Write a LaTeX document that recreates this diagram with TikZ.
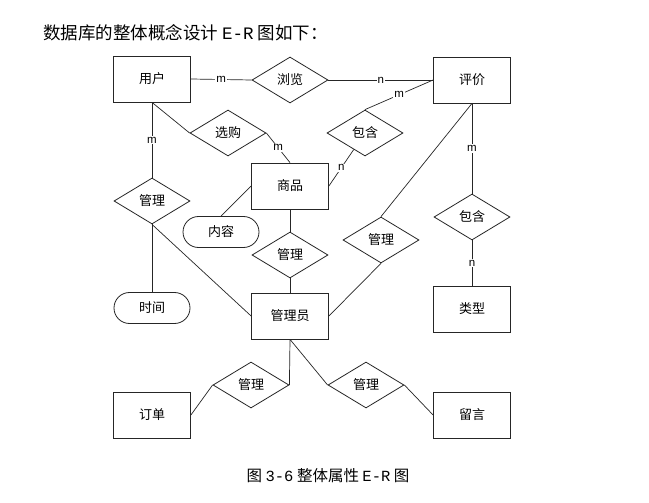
\documentclass[tikz,border=0pt]{standalone}
\usepackage{fontspec}
\setmainfont{Noto Sans CJK SC}
\newfontfamily\monofnt{Liberation Mono}
\newfontfamily\latinfnt{Liberation Sans}
\usetikzlibrary{shapes.geometric}
\begin{document}
\begin{tikzpicture}[x=1pt,y=-1pt,
  ent/.style={draw=black!85, line width=0.8pt, minimum width=77pt, minimum height=46pt, inner sep=0pt, font=\fontsize{13}{13}\selectfont},
  rel/.style={draw=black!85, diamond, line width=0.8pt, minimum width=76pt, minimum height=46pt, inner sep=0pt, font=\fontsize{13}{13}\selectfont},
  attr/.style={draw=black!85, line width=0.8pt, rounded corners=15.5pt, minimum width=76pt, minimum height=31pt, inner sep=0pt, font=\fontsize{13}{13}\selectfont},
  conn/.style={draw=black!85, line width=0.7pt},
  card/.style={fill=white, inner sep=1pt, font=\latinfnt\fontsize{11.5}{11.5}\selectfont}
]
\fill[white] (0,0) rectangle (649,503);
\useasboundingbox (0,0) rectangle (649,503);

\node[anchor=west, inner sep=0pt, font=\fontsize{17.5}{17.5}\selectfont] (title) at (43,33) {数据库的整体概念设计 {\monofnt E-R} 图如下：};

% entities
\node[ent] (yonghu) at (152,79) {用户};
\node[ent] (pingjia) at (472,80) {评价};
\node[ent] (shangpin) at (290,186) {商品};
\node[ent] (guanliyuan) at (290,316) {管理员};
\node[ent] (leixing) at (472,309) {类型};
\node[ent] (dingdan) at (152,415) {订单};
\node[ent] (liuyan) at (472,415) {留言};

% relations
\node[rel] (liulan) at (290,80) {浏览};
\node[rel] (xuangou) at (228,133) {选购};
\node[rel] (baohanA) at (365,133) {包含};
\node[rel] (guanliA) at (152,201) {管理};
\node[rel] (guanliB) at (290,255) {管理};
\node[rel] (guanliC) at (381,240) {管理};
\node[rel] (baohanB) at (472,217) {包含};
\node[rel] (guanliD) at (251,385) {管理};
\node[rel] (guanliE) at (366,385) {管理};

% attributes
\node[attr] (shijian) at (152,308) {时间};
\node[attr] (neirong) at (221,232) {内容};

% connectors
\draw[conn] (yonghu.east) -- node[card]{m} (liulan.west);
\draw[conn] (liulan.east) -- node[card]{n} (pingjia.west);
\draw[conn] (pingjia.west) -- node[card]{m} (baohanA.north);
\draw[conn] (baohanA) -- node[card, pos=0.5]{n} (shangpin.east);
\draw[conn] (yonghu.south) -- (xuangou.west);
\draw[conn] (xuangou.east) -- node[card]{m} (shangpin.north);
\draw[conn] (yonghu.south) -- node[card]{m} (guanliA.north);
\draw[conn] (guanliA.south) -- (shijian.north);
\draw[conn] (guanliA.south) -- (guanliyuan.west);
\draw[conn] (shangpin.west) -- (neirong.north);
\draw[conn] (shangpin.south) -- (guanliB.north);
\draw[conn] (guanliB.south) -- (guanliyuan.north);
\draw[conn] (pingjia.south) -- (guanliC.north);
\draw[conn] (guanliC.south) -- (guanliyuan.east);
\draw[conn] (pingjia.south) -- node[card]{m} (baohanB.north);
\draw[conn] (baohanB.south) -- node[card]{n} (leixing.north);
\draw[conn] (guanliyuan.south) -- (guanliD.east);
\draw[conn] (guanliD.west) -- (dingdan.east);
\draw[conn] (guanliyuan.south) -- (guanliE.west);
\draw[conn] (guanliE.east) -- (liuyan.west);

\node[inner sep=0pt, font=\fontsize{15.5}{15.5}\selectfont] (caption) at (328,476) {图 {\monofnt 3-6} 整体属性 {\monofnt E-R} 图};
\end{tikzpicture}
\end{document}
